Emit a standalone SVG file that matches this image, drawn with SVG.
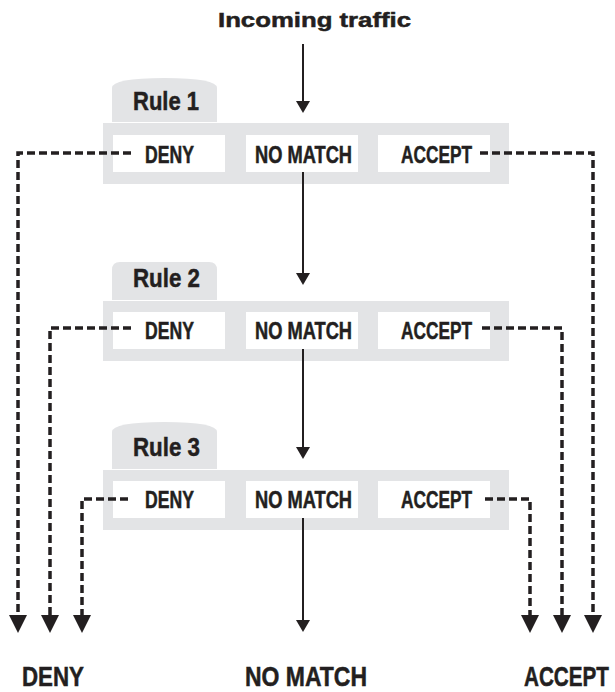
<svg xmlns="http://www.w3.org/2000/svg" width="615" height="692" viewBox="0 0 615 692">
<defs>
<style>
.t{font-family:"Liberation Sans","Arial",sans-serif;font-weight:bold;fill:#231f20;stroke:#231f20;stroke-width:0.5}
.tab{fill:#e3e4e6}
.outer{fill:#e3e4e6}
.box{fill:#ffffff}
.solid{stroke:#231f20;stroke-width:2;fill:none}
.dash{stroke:#231f20;stroke-width:3.5;fill:none;stroke-dasharray:8 4}
</style>
<marker id="ah" viewBox="0 0 12 14" refX="0" refY="7" markerWidth="12" markerHeight="14" markerUnits="userSpaceOnUse" orient="auto">
<path d="M0,0 L12,7 L0,14 z" fill="#231f20"/>
</marker>
<marker id="ahd" viewBox="0 0 18 18" refX="0" refY="9" markerWidth="18" markerHeight="18" markerUnits="userSpaceOnUse" orient="auto">
<path d="M0,0 L18,9 L0,18 z" fill="#231f20"/>
</marker>
</defs>
<rect width="615" height="692" fill="#ffffff"/>

<g id="title">
<text class="t" x="218" y="27" font-size="21" textLength="193" lengthAdjust="spacingAndGlyphs" stroke-width="0.3">Incoming traffic</text>
</g>

<g id="rule1">
<path class="tab" d="M112,122 L112,88 Q112,78 164.5,78 Q217,78 217,88 L217,122 Z"/>
<text class="t" x="133" y="110" font-size="25" textLength="66" lengthAdjust="spacingAndGlyphs">Rule 1</text>
<rect class="outer" x="103" y="123" width="406" height="61"/>
<rect class="box" x="113" y="135" width="112" height="37"/>
<rect class="box" x="246" y="135" width="112" height="37"/>
<rect class="box" x="378" y="135" width="112" height="37"/>
<text class="t" x="145" y="163" font-size="23" textLength="49" lengthAdjust="spacingAndGlyphs">DENY</text>
<text class="t" x="255" y="163" font-size="23" textLength="97" lengthAdjust="spacingAndGlyphs">NO MATCH</text>
<text class="t" x="401" y="163" font-size="23" textLength="71" lengthAdjust="spacingAndGlyphs">ACCEPT</text>
</g>

<g id="rule2">
<path class="tab" d="M112,300 L112,270 Q112,262 120,262 L209,262 Q217,262 217,270 L217,300 Z"/>
<text class="t" x="133" y="287" font-size="25" textLength="67" lengthAdjust="spacingAndGlyphs">Rule 2</text>
<rect class="outer" x="103" y="301" width="406" height="60"/>
<rect class="box" x="113" y="312" width="112" height="37"/>
<rect class="box" x="246" y="312" width="112" height="37"/>
<rect class="box" x="378" y="312" width="112" height="37"/>
<text class="t" x="145" y="339" font-size="23" textLength="49" lengthAdjust="spacingAndGlyphs">DENY</text>
<text class="t" x="255" y="339" font-size="23" textLength="97" lengthAdjust="spacingAndGlyphs">NO MATCH</text>
<text class="t" x="401" y="339" font-size="23" textLength="71" lengthAdjust="spacingAndGlyphs">ACCEPT</text>
</g>

<g id="rule3">
<path class="tab" d="M112,469 L112,432 Q112,422 164.5,422 Q217,422 217,432 L217,469 Z"/>
<text class="t" x="133" y="456" font-size="25" textLength="67" lengthAdjust="spacingAndGlyphs">Rule 3</text>
<rect class="outer" x="103" y="470" width="406" height="60"/>
<rect class="box" x="113" y="481" width="112" height="37"/>
<rect class="box" x="246" y="481" width="112" height="37"/>
<rect class="box" x="378" y="481" width="112" height="37"/>
<text class="t" x="145" y="508" font-size="23" textLength="49" lengthAdjust="spacingAndGlyphs">DENY</text>
<text class="t" x="255" y="508" font-size="23" textLength="97" lengthAdjust="spacingAndGlyphs">NO MATCH</text>
<text class="t" x="401" y="508" font-size="23" textLength="71" lengthAdjust="spacingAndGlyphs">ACCEPT</text>
</g>

<g id="connectors">
<path class="solid" d="M303,44 L303,101" marker-end="url(#ah)"/>
<path class="solid" d="M303,172 L303,273" marker-end="url(#ah)"/>
<path class="solid" d="M303,349 L303,447" marker-end="url(#ah)"/>
<path class="solid" d="M303,518 L303,620" marker-end="url(#ah)"/>

<path class="dash" d="M131,153 L18,153 L18,615" marker-end="url(#ahd)"/>
<path class="dash" d="M131,328 L50,328 L50,615" marker-end="url(#ahd)"/>
<path class="dash" d="M128,499 L82,499 L82,615" marker-end="url(#ahd)"/>

<path class="dash" d="M480,153 L593,153 L593,615" marker-end="url(#ahd)"/>
<path class="dash" d="M482,328 L562,328 L562,615" marker-end="url(#ahd)"/>
<path class="dash" d="M485,499 L530,499 L530,615" marker-end="url(#ahd)"/>
</g>

<g id="out-deny">
<text class="t" x="22" y="686" font-size="27" textLength="62" lengthAdjust="spacingAndGlyphs">DENY</text>
</g>
<g id="out-nomatch">
<text class="t" x="245" y="686" font-size="27" textLength="122" lengthAdjust="spacingAndGlyphs">NO MATCH</text>
</g>
<g id="out-accept">
<text class="t" x="0" y="0" font-size="27" transform="translate(524,686) scale(0.766,1)">ACCEPT</text>
</g>
</svg>
